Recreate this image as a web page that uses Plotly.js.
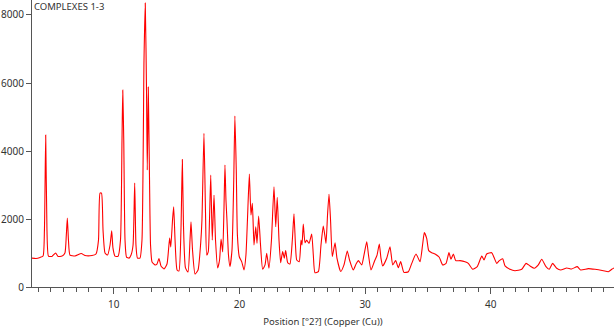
<!DOCTYPE html>
<html>
<head>
<meta charset="utf-8">
<script src="https://cdn.plot.ly/plotly-3.0.1.min.js"></script>
<style>html,body{margin:0;padding:0;background:#fff;}#chart{width:614px;height:334px;}</style>
</head>
<body>
<div id="chart"></div>
<script>
// 2-theta positions (degrees, Cu K-alpha)
const twoTheta = [
3.50,3.82,4.14,4.38,4.49,4.59,4.69,4.81,5.09,5.38,5.57,5.89,6.12,6.23,6.31,6.40,6.52,6.92,7.42,7.72,
8.27,8.59,8.79,8.91,9.03,9.15,9.31,9.51,9.71,9.84,9.94,10.10,10.34,10.54,10.66,10.72,10.80,10.90,11.02,11.22,
11.38,11.54,11.67,11.77,11.89,12.09,12.25,12.41,12.51,12.61,12.67,12.75,12.85,12.93,13.05,13.28,13.44,13.60,13.76,14.00,
14.24,14.45,14.54,14.68,14.77,14.88,15.04,15.19,15.35,15.46,15.55,15.71,15.91,16.07,16.15,16.27,16.47,16.71,16.92,17.02,
17.18,17.30,17.40,17.52,17.62,17.72,17.84,17.98,18.10,18.27,18.42,18.54,18.67,18.77,18.85,18.93,19.01,19.13,19.25,19.41,
19.55,19.64,19.75,19.84,19.99,20.18,20.37,20.52,20.64,20.79,20.92,21.03,21.16,21.30,21.40,21.53,21.68,21.85,22.04,22.17,
22.35,22.55,22.75,22.89,23.01,23.15,23.28,23.44,23.57,23.68,23.84,24.02,24.21,24.34,24.46,24.56,24.76,24.90,24.98,25.08,
25.22,25.35,25.54,25.75,25.88,26.01,26.28,26.49,26.67,26.81,26.89,27.01,27.13,27.25,27.39,27.61,27.76,28.06,28.32,28.58,
28.76,29.06,29.28,29.46,29.73,29.91,30.13,30.27,30.47,30.73,30.95,31.13,31.26,31.40,31.72,31.98,32.20,32.43,32.64,32.83,
33.09,33.44,33.71,34.05,34.37,34.57,34.71,34.90,35.06,35.30,35.56,35.90,36.17,36.44,36.67,36.83,37.02,37.21,37.55,37.95,
38.21,38.56,38.92,39.28,39.46,39.67,40.07,40.25,40.47,40.68,40.94,41.13,41.53,41.92,42.46,42.80,43.12,43.46,43.78,44.05,
44.39,44.65,44.92,45.24,45.56,46.04,46.43,46.88,47.15,47.76,48.29,48.95,49.35,49.62,49.80
];
// Intensity (counts)
const counts = [
850,840,870,910,1680,4470,1680,910,900,1000,900,910,1000,1530,2030,1380,940,910,985,925,
925,970,1380,2760,2760,1680,1000,940,1235,1650,1150,910,900,1380,4320,5790,4320,1380,880,850,
940,1235,3060,1235,850,850,1380,6670,8350,5790,3440,5880,3150,1235,735,650,675,840,620,530,
675,1440,1175,1970,2360,1380,500,470,1680,3750,1820,560,440,1380,1920,1090,380,500,1290,1970,
4520,2260,940,1030,1970,3290,1380,2700,1380,560,795,1410,1030,2260,3590,2560,1970,940,600,1090,
3150,5030,3440,1530,890,745,500,940,1970,3320,2120,2460,1235,1770,1285,2090,1235,520,650,990,
550,1380,2950,1770,2640,1380,715,1040,850,1070,715,675,1380,2150,1235,795,745,1380,1235,1850,
1300,1380,1285,1560,940,420,450,1235,1790,1480,1285,2120,2730,1970,890,1300,850,455,650,1060,
795,500,675,775,650,940,1330,940,500,745,940,1265,850,620,845,1185,650,775,565,745,
430,450,695,970,745,1235,1600,1430,1070,1010,970,875,650,695,1010,815,970,775,775,745,
695,520,600,910,795,970,1010,875,695,775,830,620,520,480,520,695,620,550,650,815,
600,520,695,550,500,560,530,600,500,540,520,480,450,520,560
];
const yTickVals = [0, 2000, 4000, 6000, 8000];
const yTickText = ['0', '2000', '4000', '6000', '8000'];
const xTickVals = [10, 20, 30, 40];
const xTickText = ['10', '20', '30', '40'];

const trace = {
  x: twoTheta, y: counts, type: 'scatter', mode: 'lines',
  line: {color: '#ff0000', width: 1.1, shape: 'spline', smoothing: 0.5},
  hoverinfo: 'x+y'
};

const fontFam = '"Noto Sans", "Open Sans", "DejaVu Sans", sans-serif';
const layout = {
  width: 614, height: 334,
  margin: {l: 32, r: 0, t: 0, b: 47},
  paper_bgcolor: '#ffffff', plot_bgcolor: '#ffffff',
  showlegend: false,
  font: {family: fontFam, size: 10, color: '#333333'},
  title: {
    text: 'COMPLEXES 1-3',
    font: {family: fontFam, size: 9.5, color: '#333333'},
    x: 34/614, xanchor: 'left', xref: 'container',
    y: 0.99, yanchor: 'top', yref: 'container', pad: {t: 0, l: 0}
  },
  xaxis: {
    range: [3.5, 49.8],
    showgrid: false, zeroline: false,
    showline: true, linecolor: '#555555', linewidth: 1,
    ticks: 'outside', ticklen: 6, tickcolor: '#555555', tickwidth: 1,
    tickmode: 'array', tickvals: xTickVals, ticktext: xTickText,
    tickfont: {family: fontFam, size: 10, color: '#333333'},
    ticklabelstandoff: 2,
    minor: {dtick: 1, tick0: 0, ticks: 'outside', ticklen: 4, tickcolor: '#555555', tickwidth: 1, showgrid: false},
    title: {text: 'Position [°2?] (Copper (Cu))', font: {family: fontFam, size: 9.5, color: '#333333'}, standoff: 8},
    fixedrange: true
  },
  yaxis: {
    range: [0, 8441],
    showgrid: false, zeroline: false,
    showline: true, linecolor: '#555555', linewidth: 1,
    ticks: 'outside', ticklen: 5, tickcolor: '#555555', tickwidth: 1,
    tickmode: 'array', tickvals: yTickVals, ticktext: yTickText,
    tickfont: {family: fontFam, size: 10, color: '#333333'},
    fixedrange: true
  }
};

Plotly.newPlot('chart', [trace], layout, {displayModeBar: false, staticPlot: true});
</script>
</body>
</html>
